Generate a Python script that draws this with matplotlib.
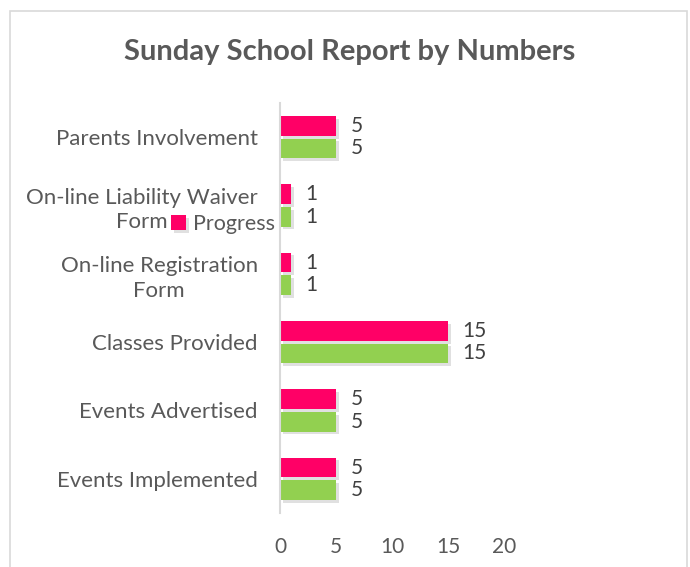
import numpy as np
import matplotlib.pyplot as plt
import matplotlib.patheffects as pe
from matplotlib.patches import Rectangle

categories = ["Parents Involvement", "On-line Liability Waiver\nForm",
              "On-line Registration\nForm", "Classes Provided",
              "Events Advertised", "Events Implemented"]
progress = [5, 1, 1, 15, 5, 5]
target = [5, 1, 1, 15, 5, 5]
x_ticks = [0, 5, 10, 15, 20]

pink = "#FF0066"
green = "#92D050"
text_col = "#595959"

plt.rcParams["font.family"] = ["Lato", "DejaVu Sans"]

fig = plt.figure(figsize=(6.9, 5.67), dpi=100)
fig.patches.append(Rectangle((10 / 690, -0.01), 677 / 690, 1 - 11 / 567 + 0.01,
                             transform=fig.transFigure, fill=False,
                             edgecolor="#D9D9D9", linewidth=1.2))

ax = fig.add_axes([280 / 690, 54 / 567, 224 / 690, 410 / 567])

y = np.arange(len(categories))
h = 0.29
off = 0.165
shadow = [pe.SimplePatchShadow(offset=(2, -2), shadow_rgbFace="#000000", alpha=0.12), pe.Normal()]
b1 = ax.barh(y - off, progress, height=h, color=pink, label="Progress", path_effects=shadow)
b2 = ax.barh(y + off, target, height=h, color=green, path_effects=shadow)

for bars, vals in ((b1, progress), (b2, target)):
    for bar, v in zip(bars, vals):
        ax.text(v + 1.3, bar.get_y() + bar.get_height() / 2, str(v),
                va="center", ha="left", fontsize=15, color="#404040")

ax.set_yticks(y)
ax.set_yticklabels(categories, fontsize=16, color=text_col,
                   multialignment="center", linespacing=1.3)
ax.set_ylim(len(categories) - 0.5, -0.5)
ax.set_xlim(0, 20)
ax.set_xticks(x_ticks)
ax.set_xticklabels([str(t) for t in x_ticks], fontsize=15, color=text_col)
ax.tick_params(axis="both", length=0)
ax.tick_params(axis="x", pad=17)
ax.tick_params(axis="y", pad=16)

for s in ("top", "right", "bottom"):
    ax.spines[s].set_visible(False)
ax.spines["left"].set_color("#D9D9D9")
ax.spines["left"].set_linewidth(1.5)

fig.text(350 / 690, 1 - 52 / 567, "Sunday School Report by Numbers",
         ha="center", va="center", fontsize=21, fontweight="bold", color=text_col)

fig.legend(handles=[b1], labels=["Progress"], loc="center",
           bbox_to_anchor=(223 / 690, 1 - 224 / 567), frameon=False,
           fontsize=15.5, labelcolor=text_col, handlelength=0.7, handleheight=0.7,
           handletextpad=0.3, borderpad=0)

fig.savefig("out.png", dpi=100)
